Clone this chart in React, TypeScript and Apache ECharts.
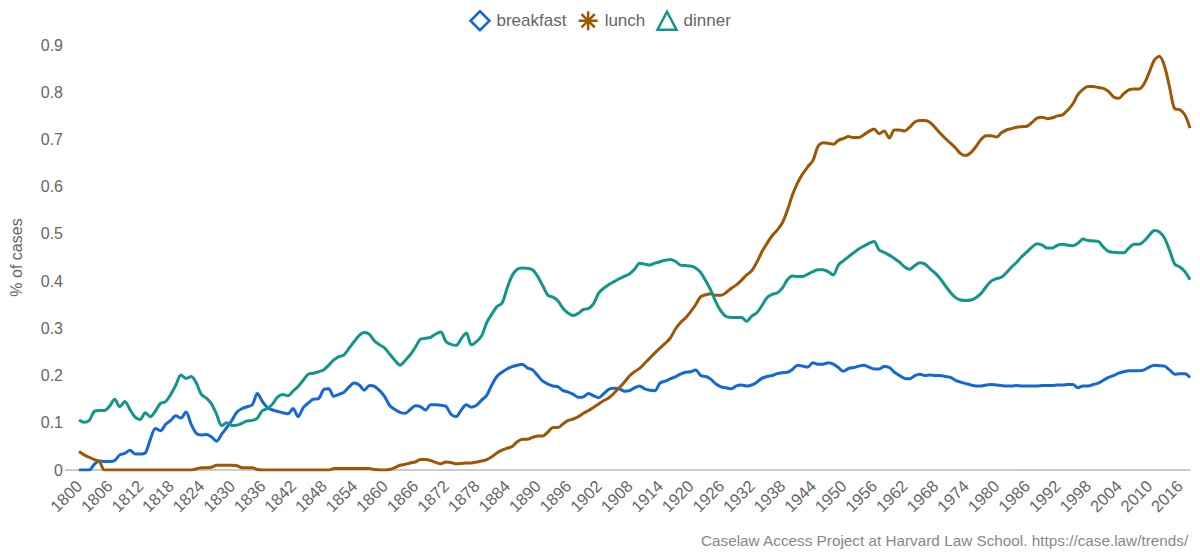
import React, { useEffect, useRef } from "react";
import * as echarts from "echarts";

const startYear = 1800;
const endYear = 2018;
const years: string[] = [];
for (let y = startYear; y <= endYear; y++) years.push(String(y));

const breakfast = [
  0, 0, 0, 0.012, 0.019, 0.018, 0.018, 0.02, 0.032, 0.035,
  0.042, 0.034, 0.034, 0.036, 0.065, 0.088, 0.083, 0.097, 0.105, 0.115,
  0.11, 0.123, 0.097, 0.078, 0.074, 0.075, 0.07, 0.061, 0.076, 0.09,
  0.105, 0.123, 0.13, 0.134, 0.138, 0.162, 0.145, 0.132, 0.127, 0.124,
  0.121, 0.119, 0.13, 0.113, 0.132, 0.142, 0.15, 0.151, 0.17, 0.172,
  0.156, 0.16, 0.165, 0.176, 0.184, 0.18, 0.169, 0.179, 0.177, 0.168,
  0.155, 0.136, 0.128, 0.122, 0.12, 0.128, 0.136, 0.134, 0.127, 0.138,
  0.138, 0.137, 0.135, 0.118, 0.113, 0.127, 0.138, 0.133, 0.137, 0.148,
  0.158, 0.18, 0.198, 0.207, 0.214, 0.219, 0.222, 0.224, 0.216, 0.212,
  0.2, 0.188, 0.182, 0.178, 0.176, 0.168, 0.165, 0.16, 0.154, 0.155,
  0.162, 0.157, 0.153, 0.162, 0.171, 0.173, 0.172, 0.167, 0.168, 0.174,
  0.178, 0.172, 0.169, 0.168, 0.184, 0.188, 0.193, 0.197, 0.203, 0.207,
  0.208, 0.212, 0.2, 0.198, 0.192, 0.182, 0.176, 0.174, 0.172, 0.178,
  0.18, 0.178, 0.18, 0.186, 0.194, 0.198, 0.2, 0.204, 0.206, 0.207,
  0.213, 0.222, 0.22, 0.218, 0.227, 0.224, 0.224, 0.227, 0.224, 0.217,
  0.209, 0.215, 0.217, 0.22, 0.222, 0.218, 0.214, 0.214, 0.219, 0.217,
  0.207, 0.2, 0.194, 0.193, 0.2, 0.203, 0.2, 0.201, 0.2, 0.2,
  0.198, 0.196, 0.19, 0.186, 0.183, 0.18, 0.178, 0.178, 0.18, 0.181,
  0.18, 0.179, 0.178, 0.178, 0.179, 0.178, 0.178, 0.178, 0.178, 0.179,
  0.179, 0.179, 0.18, 0.18, 0.181, 0.181, 0.174, 0.178, 0.178, 0.181,
  0.184, 0.19, 0.196, 0.2, 0.205, 0.208, 0.21, 0.21, 0.21, 0.212,
  0.218, 0.222, 0.221, 0.22, 0.212, 0.203, 0.204, 0.204, 0.196,
];

const lunch = [
  0.039, 0.032, 0.027, 0.022, 0.018, 0, 0, 0, 0, 0,
  0, 0, 0, 0, 0, 0, 0, 0, 0, 0,
  0, 0, 0, 0.002, 0.005, 0.005, 0.006, 0.01, 0.01, 0.01,
  0.01, 0.009, 0.005, 0.005, 0.005, 0.001, 0, 0, 0, 0,
  0, 0, 0, 0, 0, 0, 0, 0, 0, 0,
  0.003, 0.003, 0.003, 0.003, 0.003, 0.003, 0.003, 0.003, 0.001, 0,
  0, 0.001, 0.005, 0.01, 0.012, 0.015, 0.017, 0.022, 0.022, 0.02,
  0.016, 0.013, 0.017, 0.016, 0.013, 0.014, 0.015, 0.015, 0.017, 0.019,
  0.022, 0.028, 0.036, 0.042, 0.046, 0.05, 0.06, 0.065, 0.065, 0.069,
  0.072, 0.072, 0.08, 0.09, 0.09, 0.098, 0.105, 0.108, 0.113, 0.12,
  0.126, 0.133, 0.14, 0.147, 0.153, 0.163, 0.174, 0.186, 0.199, 0.208,
  0.215, 0.226, 0.237, 0.248, 0.258, 0.268, 0.279, 0.298, 0.312, 0.322,
  0.335, 0.35, 0.367, 0.371, 0.373, 0.37, 0.37, 0.376, 0.385, 0.392,
  0.402, 0.413, 0.422, 0.44, 0.462, 0.48, 0.496, 0.508, 0.523, 0.55,
  0.583, 0.608, 0.627, 0.642, 0.655, 0.685, 0.693, 0.692, 0.69, 0.698,
  0.702, 0.706, 0.704, 0.704, 0.71, 0.717, 0.722, 0.712, 0.718, 0.703,
  0.72, 0.72, 0.718, 0.726, 0.737, 0.74, 0.74, 0.736, 0.725, 0.713,
  0.702, 0.692, 0.682, 0.67, 0.666, 0.672, 0.685, 0.7, 0.708, 0.708,
  0.705, 0.714, 0.72, 0.723, 0.726, 0.727, 0.728, 0.736, 0.745, 0.747,
  0.744, 0.746, 0.75, 0.752, 0.762, 0.775, 0.795, 0.806, 0.812, 0.812,
  0.81, 0.808, 0.802, 0.79, 0.787, 0.797, 0.805, 0.807, 0.807, 0.818,
  0.842, 0.868, 0.876, 0.855, 0.81, 0.765, 0.763, 0.752, 0.724,
];

const dinner = [
  0.106, 0.101, 0.105, 0.124, 0.126, 0.126, 0.135, 0.15, 0.134, 0.145,
  0.128, 0.112, 0.107, 0.121, 0.113, 0.125, 0.141, 0.145, 0.16, 0.18,
  0.201, 0.194, 0.198, 0.185, 0.16, 0.152, 0.14, 0.118, 0.094, 0.1,
  0.094, 0.095, 0.099, 0.104, 0.105, 0.11, 0.126, 0.13, 0.14, 0.155,
  0.16, 0.157, 0.167, 0.177, 0.19, 0.203, 0.205, 0.208, 0.212, 0.222,
  0.233, 0.24, 0.244, 0.258, 0.272, 0.285, 0.291, 0.287, 0.273, 0.265,
  0.258, 0.245, 0.232, 0.222, 0.232, 0.244, 0.26, 0.277, 0.279, 0.281,
  0.288, 0.292, 0.272, 0.266, 0.264, 0.278, 0.29, 0.265, 0.272, 0.284,
  0.312, 0.33, 0.346, 0.353, 0.385, 0.412, 0.425, 0.428, 0.427, 0.424,
  0.41, 0.39, 0.37, 0.366, 0.358, 0.342, 0.332, 0.327, 0.332, 0.34,
  0.342, 0.353, 0.375, 0.385, 0.393, 0.399, 0.405, 0.41, 0.415, 0.425,
  0.438, 0.436, 0.434, 0.438, 0.441, 0.444, 0.446, 0.442, 0.434, 0.433,
  0.432, 0.428, 0.418, 0.4, 0.38, 0.355, 0.336, 0.325, 0.323, 0.323,
  0.323, 0.315, 0.326, 0.333, 0.348, 0.365, 0.372, 0.375, 0.385, 0.403,
  0.411, 0.41, 0.41, 0.415, 0.42, 0.424, 0.424, 0.42, 0.413, 0.434,
  0.443, 0.452, 0.46, 0.468, 0.474, 0.48, 0.484, 0.466, 0.461, 0.455,
  0.448, 0.44, 0.43, 0.425, 0.433, 0.439, 0.436, 0.426, 0.417, 0.405,
  0.39, 0.376, 0.365, 0.36, 0.359, 0.36, 0.365, 0.374, 0.388, 0.4,
  0.405, 0.408, 0.418, 0.43, 0.44, 0.452, 0.462, 0.472, 0.479, 0.476,
  0.47, 0.47, 0.476, 0.478, 0.476, 0.475, 0.48, 0.489, 0.486, 0.485,
  0.484, 0.472, 0.463, 0.461, 0.46, 0.46, 0.47, 0.478, 0.478, 0.485,
  0.497, 0.507, 0.504, 0.491, 0.465, 0.436, 0.43, 0.42, 0.403,
];

const yTicks = [0, 0.1, 0.2, 0.3, 0.4, 0.5, 0.6, 0.7, 0.8, 0.9];

const COLORS = { breakfast: "#1468d6", lunch: "#9e5605", dinner: "#12958b" };
const FONT = "Liberation Sans, Arial, Helvetica, sans-serif";

export default function App() {
  const ref = useRef<HTMLDivElement>(null);
  useEffect(() => {
    if (!ref.current) return;
    const chart = echarts.init(ref.current, undefined, { renderer: "svg" });
    const mkSeries = (name: string, data: number[], color: string) => ({
      name,
      type: "line",
      data,
      smooth: 0.3,
      showSymbol: false,
      symbol: "none",
      lineStyle: { color, width: 3 },
      itemStyle: { color },
    });
    chart.setOption({
      animation: false,
      textStyle: { fontFamily: FONT },
      legend: {
        top: 5,
        left: "center",
        itemWidth: 19,
        itemHeight: 19,
        itemGap: 11,
        textStyle: { color: "#666", fontSize: 17, fontFamily: FONT, padding: [0, 0, 0, 2] },
        data: [
          {
            name: "breakfast",
            icon: "path://M10,1 L19,10 L10,19 L1,10 Z",
            itemStyle: { color: "transparent", borderColor: COLORS.breakfast, borderWidth: 2.5 },
          },
          {
            name: "lunch",
            icon: "path://M10,0 L10,20 M0,10 L20,10 M3,3 L17,17 M17,3 L3,17",
            itemStyle: { color: "transparent", borderColor: COLORS.lunch, borderWidth: 2.5 },
          },
          {
            name: "dinner",
            icon: "path://M10,1 L19,18 L1,18 Z",
            itemStyle: { color: "transparent", borderColor: COLORS.dinner, borderWidth: 2.5 },
          },
        ],
      },
      title: {
        text: "Caselaw Access Project at Harvard Law School. https://case.law/trends/",
        right: 6,
        bottom: 3,
        textStyle: { color: "#888", fontSize: 15.3, fontWeight: "normal", fontFamily: FONT },
      },
      grid: { left: 78, right: 10, top: 45, bottom: 86, containLabel: false },
      xAxis: {
        type: "category",
        data: years,
        boundaryGap: false,
        axisLine: { show: true, lineStyle: { color: "#bbb", width: 1.5 } },
        axisTick: { show: false },
        axisLabel: {
          interval: 5,
          rotate: 45,
          color: "#666",
          fontSize: 16.5,
          fontFamily: FONT,
          margin: 13,
        },
        splitLine: { show: false },
      },
      yAxis: {
        type: "value",
        min: 0,
        max: 0.9,
        interval: 0.1,
        name: "% of cases",
        nameLocation: "middle",
        nameGap: 55,
        nameTextStyle: { color: "#666", fontSize: 16, fontFamily: FONT },
        axisLine: { show: false },
        axisTick: { show: false },
        splitLine: { show: false },
        axisLabel: {
          color: "#666",
          fontSize: 16,
          fontFamily: FONT,
          margin: 16,
          formatter: (v: number) => {
            const t = yTicks.find((x) => Math.abs(x - v) < 1e-9);
            return t === undefined ? "" : String(t);
          },
        },
      },
      graphic: [
        {
          type: "line",
          shape: { x1: 65, y1: 470, x2: 79, y2: 470 },
          style: { stroke: "#bbb", lineWidth: 1.5 },
          z: 0,
        },
      ],
      series: [
        mkSeries("breakfast", breakfast, COLORS.breakfast),
        mkSeries("lunch", lunch, COLORS.lunch),
        mkSeries("dinner", dinner, COLORS.dinner),
      ],
    });
    return () => chart.dispose();
  }, []);
  return (
    <div
      ref={ref}
      style={{ position: "fixed", left: 0, top: 0, width: 1200, height: 556, background: "#fff" }}
    />
  );
}
